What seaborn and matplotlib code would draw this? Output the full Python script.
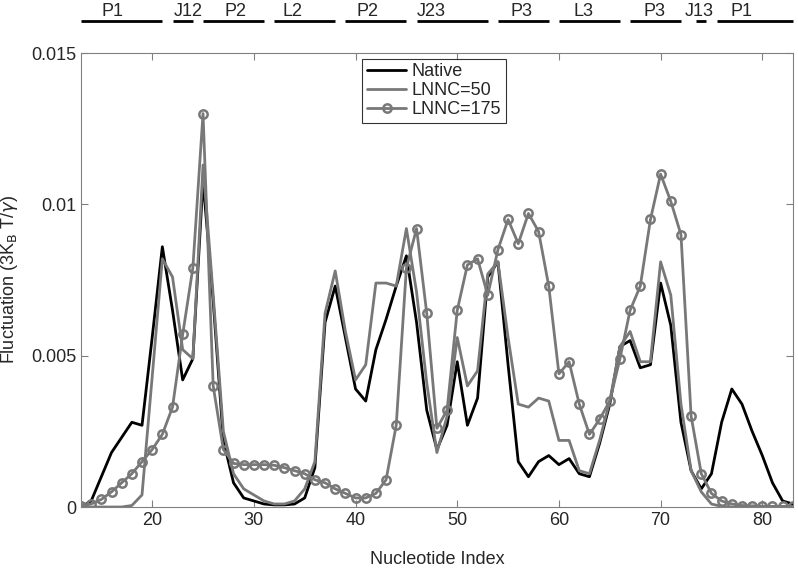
import numpy as np
import pandas as pd
import matplotlib
matplotlib.use("Agg")
import matplotlib.pyplot as plt
import matplotlib.transforms as mtransforms
import seaborn as sns

# nucleotide index 13..83
nucleotide = list(range(13, 84))

native = [0.0, 0.0002, 0.0010, 0.0018, 0.0023, 0.0028, 0.0027, 0.0056, 0.0086, 0.0065,
          0.0042, 0.0049, 0.0108, 0.0068, 0.0022, 0.0008, 0.0003, 0.0002, 0.0001, 0.00007,
          0.00007, 0.0001, 0.0003, 0.0013, 0.0061, 0.0073, 0.0056, 0.0039, 0.0035, 0.0052,
          0.0062, 0.0073, 0.0083, 0.0061, 0.0032, 0.0019, 0.0027, 0.0048, 0.0027, 0.0036,
          0.0076, 0.0081, 0.0047, 0.0015, 0.0010, 0.0015, 0.0017, 0.0014, 0.0016, 0.0011,
          0.0010, 0.0021, 0.0034, 0.0053, 0.0055, 0.0046, 0.0047, 0.0074, 0.0060, 0.0028,
          0.0012, 0.0006, 0.0011, 0.0028, 0.0039, 0.0034, 0.0025, 0.0017, 0.0008, 0.0002,
          0.0001]

lnnc50 = [0.0, 0.0, 0.0, 0.0, 0.0, 0.00005, 0.0004, 0.0043, 0.0082, 0.0076,
          0.0052, 0.0049, 0.0113, 0.0070, 0.0025, 0.0011, 0.0006, 0.0004, 0.0002, 0.0001,
          0.0001, 0.0002, 0.0006, 0.0015, 0.0064, 0.0078, 0.0058, 0.0042, 0.0047, 0.0074,
          0.0074, 0.0073, 0.0092, 0.0071, 0.0041, 0.0018, 0.0030, 0.0056, 0.0040, 0.0045,
          0.0077, 0.0081, 0.0056, 0.0034, 0.0033, 0.0036, 0.0035, 0.0022, 0.0022, 0.0012,
          0.0011, 0.0022, 0.0035, 0.0053, 0.0058, 0.0048, 0.0048, 0.0081, 0.0070, 0.0034,
          0.0012, 0.0005, 0.0001, 0.00002, 0.0, 0.0, 0.0, 0.0, 0.0, 0.0,
          0.0]

lnnc175 = [0.00005, 0.0001, 0.00025, 0.0005, 0.0008, 0.0011, 0.0015, 0.0019, 0.0024, 0.0033,
           0.0057, 0.0079, 0.0130, 0.0040, 0.0019, 0.00144, 0.0014, 0.0014, 0.0014, 0.00138,
           0.0013, 0.0012, 0.0011, 0.0009, 0.0008, 0.0006, 0.00045, 0.0003, 0.0003, 0.00045,
           0.0009, 0.0027, 0.0079, 0.0092, 0.0064, 0.0026, 0.0032, 0.0065, 0.0080, 0.0082,
           0.0070, 0.0085, 0.0095, 0.0087, 0.0097, 0.0091, 0.0073, 0.0044, 0.0048, 0.0034,
           0.0024, 0.0029, 0.0035, 0.0049, 0.0065, 0.0073, 0.0095, 0.0110, 0.0101, 0.0090,
           0.0030, 0.0011, 0.00045, 0.0002, 0.0001, 0.00005, 0.00004, 0.00003, 0.00002, 0.00002,
           0.00002]

# secondary structure segments along the top
seg_names = ["P1", "J12", "P2", "L2", "P2", "J23", "P3", "L3", "P3", "J13", "P1"]
seg_start = [13, 22, 25, 32, 39, 46, 54, 60, 67, 73.5, 75.5]
seg_end = [21, 24, 31, 38, 45, 53, 59, 66, 72, 74.5, 83]
seg_label_x = [16.1, 23.5, 28.2, 33.8, 41.2, 47.4, 56.3, 62.4, 69.4, 73.8, 78.0]

df = pd.DataFrame({"idx": nucleotide, "Native": native,
                   "LNNC=50": lnnc50, "LNNC=175": lnnc175})

sns.set_style("ticks")
plt.rcParams["font.family"] = ["Liberation Sans", "DejaVu Sans"]

fig = plt.figure(figsize=(7.98, 5.70), dpi=100)
ax = fig.add_axes([0.1015, 0.1105, 0.892, 0.7965])

gray = "#787878"
sns.lineplot(data=df, x="idx", y="Native", ax=ax, color="black", linewidth=2, label="Native")
sns.lineplot(data=df, x="idx", y="LNNC=50", ax=ax, color=gray, linewidth=2, label="LNNC=50")
sns.lineplot(data=df, x="idx", y="LNNC=175", ax=ax, color=gray, linewidth=2, marker="o",
             markersize=6, markerfacecolor="none", markeredgecolor=gray, markeredgewidth=1.8,
             label="LNNC=175")

ax.set_xlim(13, 83)
ax.set_ylim(0, 0.015)
ax.set_xticks([20, 30, 40, 50, 60, 70, 80])
ax.set_yticks([0, 0.005, 0.01, 0.015])
ax.set_yticklabels(["0", "0.005", "0.01", "0.015"])
ax.tick_params(direction="in", top=True, right=True, length=5, color="#808080",
               labelsize=13, width=0.8)
for s in ax.spines.values():
    s.set_color("#808080")
    s.set_linewidth(0.8)

ax.set_xlabel("Nucleotide Index", fontsize=13, labelpad=16)
ax.set_ylabel(r"Fluctuation (3K$_\mathrm{B}$ T/$\gamma$)", fontsize=13, labelpad=8)

leg = ax.legend(loc="upper left", bbox_to_anchor=(0.395, 0.987), fontsize=13,
                frameon=True, fancybox=False, handlelength=2.2, handletextpad=0.3,
                borderpad=0.25, labelspacing=0.1, borderaxespad=0)
leg.get_frame().set_edgecolor("black")
leg.get_frame().set_linewidth(0.8)

trans = mtransforms.blended_transform_factory(ax.transData, ax.transAxes)
for name, x0, x1, lx in zip(seg_names, seg_start, seg_end, seg_label_x):
    ax.plot([x0, x1], [1.0705, 1.0705], transform=trans, color="black",
            linewidth=2, clip_on=False, solid_capstyle="butt")
    ax.text(lx, 1.092, name, transform=trans, ha="center", va="center",
            fontsize=13, clip_on=False)

fig.savefig("out.png", dpi=100)
